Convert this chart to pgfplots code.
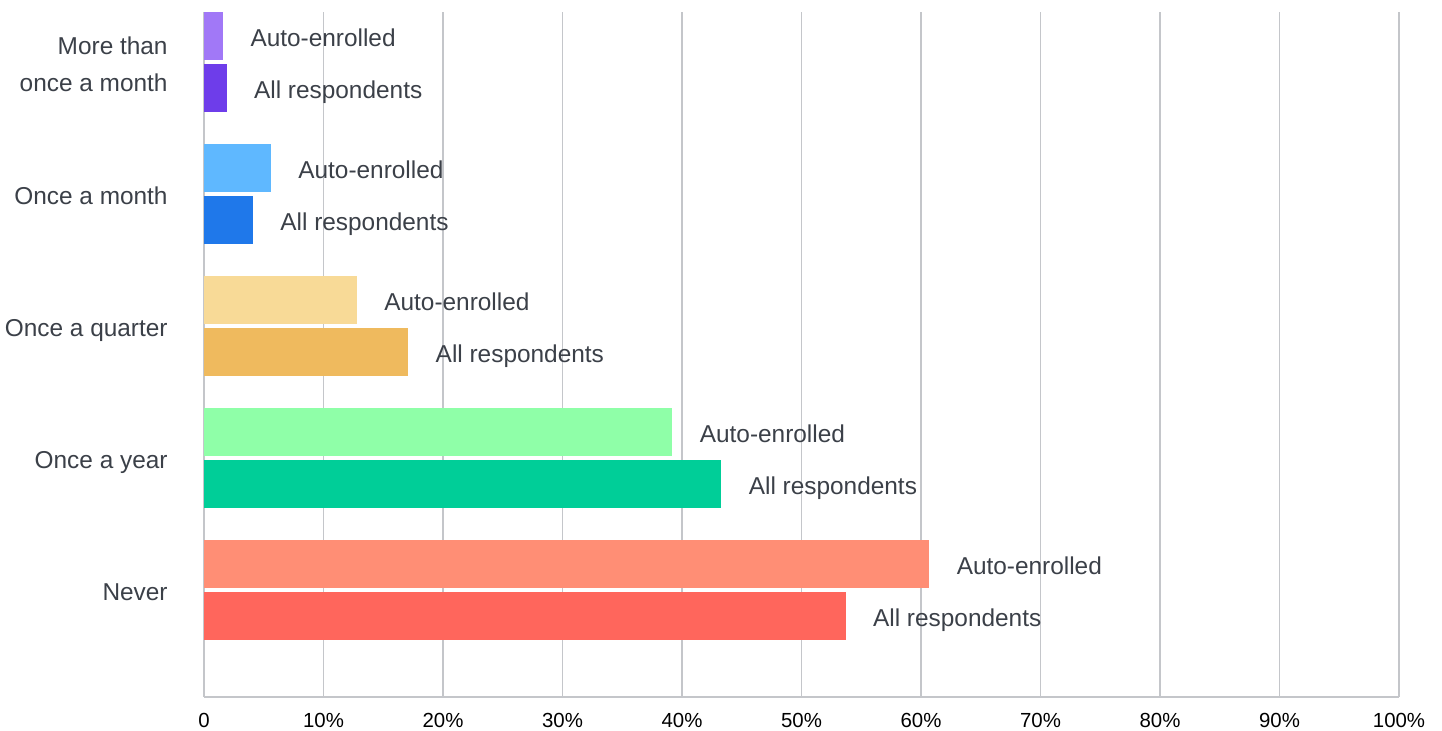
\documentclass[border=0pt]{standalone}
\usepackage{fontspec}
\setmainfont{Liberation Sans}
\usepackage{pgfplots}
\pgfplotsset{compat=1.18}

\definecolor{moa}{HTML}{A178F7}
\definecolor{mob}{HTML}{6E3DEA}
\definecolor{ma}{HTML}{5FB8FF}
\definecolor{mb}{HTML}{1F78EA}
\definecolor{qa}{HTML}{F8DA97}
\definecolor{qb}{HTML}{EFBA5E}
\definecolor{ya}{HTML}{8FFFA8}
\definecolor{yb}{HTML}{00CE98}
\definecolor{na}{HTML}{FF8E75}
\definecolor{nb}{HTML}{FF665C}
\definecolor{gridgray}{HTML}{C4C6CA}
\definecolor{labelgray}{HTML}{3B4048}

\newcommand{\labfont}{\fontsize{12.2}{18.5}\selectfont}

\begin{document}
\begin{tikzpicture}
\useasboundingbox (-102pt,-17pt) rectangle (619pt,348.5pt);
\begin{axis}[
  scale only axis,
  width=597.5pt, height=342.5pt,
  xmin=0, xmax=100,
  ymin=-0.811, ymax=4.379,
  xbar, bar width=0.3636,
  axis lines*=left,
  axis line style={draw=gridgray, line width=0.65pt, -},
  xmajorgrids,
  grid style={draw=gridgray, line width=0.65pt},
  major tick length=0pt,
  xtick={0,10,...,100},
  xticklabels={0,10\%,20\%,30\%,40\%,50\%,60\%,70\%,80\%,90\%,100\%},
  ytick={0,1,2,3,4},
  yticklabels={Never,Once a year,Once a quarter,Once a month,More than\\once a month},
  /pgf/number format/assume math mode=true,
  xticklabel style={font=\fontsize{10.2}{12}\selectfont, text=black, anchor=center, inner sep=0pt, yshift=-11.5pt},
  yticklabel style={font=\labfont, text=labelgray, align=right, anchor=east, inner sep=0pt, text depth=0pt, xshift=-18pt, yshift=-1pt},
  nodes near coords align={horizontal},
  every node near coord/.append style={font=\labfont, text=labelgray, inner sep=0pt, text depth=0pt, xshift=13.5pt, yshift=-0.8pt},
  clip=false,
]
% More than once a month
\addplot[fill=moa, draw=none, bar shift=0.197, nodes near coords={Auto-enrolled}] coordinates {(1.6,4)};
\addplot[fill=mob, draw=none, bar shift=-0.197, nodes near coords={All respondents}] coordinates {(1.9,4)};
% Once a month
\addplot[fill=ma, draw=none, bar shift=0.197, nodes near coords={Auto-enrolled}] coordinates {(5.6,3)};
\addplot[fill=mb, draw=none, bar shift=-0.197, nodes near coords={All respondents}] coordinates {(4.1,3)};
% Once a quarter
\addplot[fill=qa, draw=none, bar shift=0.197, nodes near coords={Auto-enrolled}] coordinates {(12.8,2)};
\addplot[fill=qb, draw=none, bar shift=-0.197, nodes near coords={All respondents}] coordinates {(17.1,2)};
% Once a year
\addplot[fill=ya, draw=none, bar shift=0.197, nodes near coords={Auto-enrolled}] coordinates {(39.2,1)};
\addplot[fill=yb, draw=none, bar shift=-0.197, nodes near coords={All respondents}] coordinates {(43.3,1)};
% Never
\addplot[fill=na, draw=none, bar shift=0.197, nodes near coords={Auto-enrolled}] coordinates {(60.7,0)};
\addplot[fill=nb, draw=none, bar shift=-0.197, nodes near coords={All respondents}] coordinates {(53.7,0)};
\end{axis}
\end{tikzpicture}
\end{document}
